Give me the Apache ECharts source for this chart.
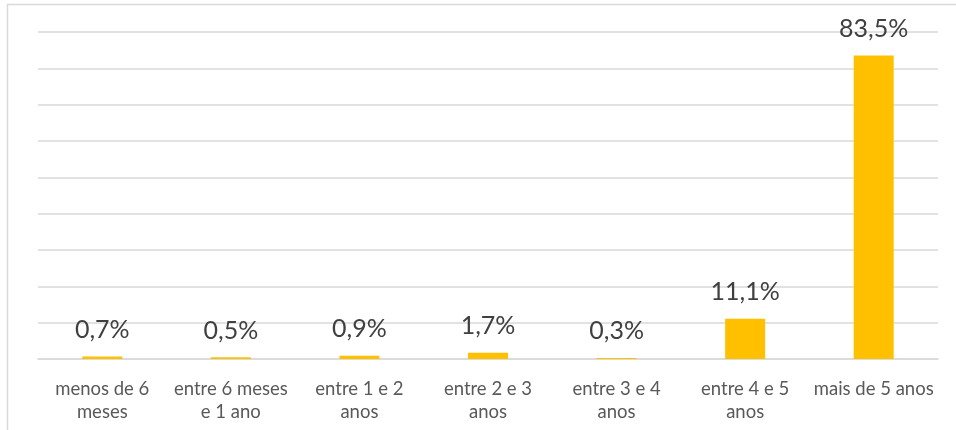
<!DOCTYPE html>
<html>
<head>
<meta charset="utf-8">
<script src="https://cdn.jsdelivr.net/npm/echarts@6/dist/echarts.min.js"></script>
<style>html,body{margin:0;padding:0;background:#fff}#c{width:956px;height:430px}</style>
</head>
<body>
<div id="c"></div>
<script>
var categories = ['menos de 6\nmeses', 'entre 6 meses\ne 1 ano', 'entre 1 e 2\nanos', 'entre 2 e 3\nanos', 'entre 3 e 4\nanos', 'entre 4 e 5\nanos', 'mais de 5 anos'];
var values = [0.7, 0.5, 0.9, 1.7, 0.3, 11.1, 83.5];
var yMin = 0, yMax = 90, yStep = 10;

var chart = echarts.init(document.getElementById('c'));
chart.setOption({
  animation: false,
  graphic: [{
    type: 'rect', silent: true,
    shape: { x: 7.5, y: 4.5, width: 1200, height: 1200 },
    style: { fill: 'none', stroke: '#d9d9d9', lineWidth: 1.5 }
  }],
  grid: { left: 38, right: 18, top: 32, bottom: 71, containLabel: false },
  xAxis: {
    type: 'category', data: categories,
    axisLine: { show: true, lineStyle: { color: '#d9d9d9', width: 1.5 } },
    axisTick: { show: false },
    axisLabel: { color: '#595959', fontSize: 18.5, fontFamily: 'Lato, "Open Sans", sans-serif', lineHeight: 23, margin: 19, interval: 0 }
  },
  yAxis: {
    type: 'value', min: yMin, max: yMax, interval: yStep,
    axisLabel: { show: false }, axisLine: { show: false }, axisTick: { show: false },
    splitLine: { lineStyle: { color: '#d9d9d9', width: 1.5 } }
  },
  series: [{
    type: 'bar', data: values, barWidth: 40,
    itemStyle: { color: '#FFC000' },
    label: {
      show: true, position: 'top', distance: 14,
      color: '#404040', fontSize: 25, fontFamily: 'Lato, "Open Sans", sans-serif',
      formatter: function (p) { return p.value.toFixed(1).replace('.', ',') + '%'; }
    }
  }]
});
</script>
</body>
</html>
